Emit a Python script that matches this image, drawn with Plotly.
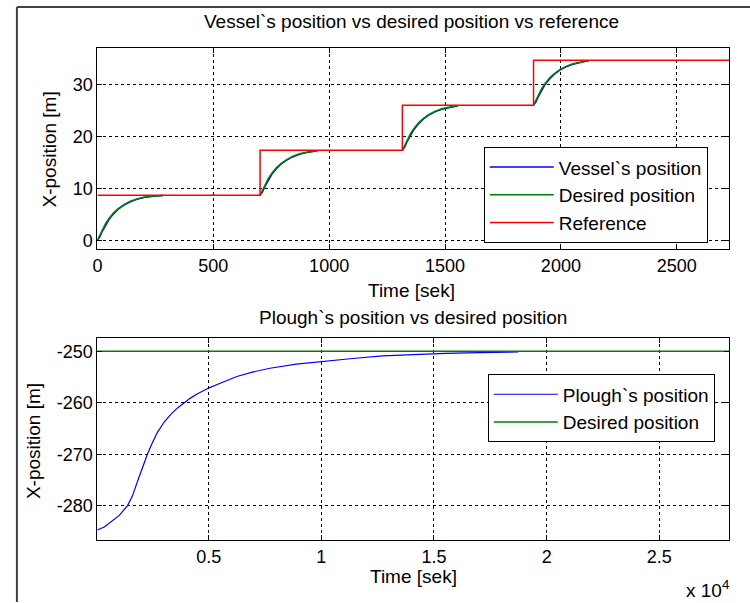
import plotly.graph_objects as go

# ---------------- data: top plot ----------------
ref_t = [0, 702, 1316, 1882, 2726]
ref_y = [8.7, 17.4, 26.1, 34.8, 34.8]

ves_t = [0, 10, 20, 35, 50, 70, 90, 115, 140, 170, 200, 240, 284, None,
         702, 712, 722, 737, 752, 772, 792, 817, 842, 872, 902, 950, None,
         1316, 1326, 1336, 1351, 1366, 1386, 1406, 1431, 1456, 1486, 1516, 1556, None,
         1882, 1892, 1902, 1917, 1932, 1952, 1972, 1997, 2022, 2052, 2082, 2120]
des_y = [0.0, 0.9, 1.9, 3.2, 4.2, 5.3, 6.1, 6.9, 7.5, 8.0, 8.3, 8.55, 8.65, None,
         8.7, 9.6, 10.6, 11.9, 12.9, 14.0, 14.8, 15.6, 16.2, 16.7, 17.0, 17.3, None,
         17.4, 18.3, 19.3, 20.6, 21.6, 22.7, 23.5, 24.3, 24.9, 25.4, 25.7, 26.0, None,
         26.1, 27.0, 28.0, 29.3, 30.3, 31.4, 32.2, 33.0, 33.6, 34.1, 34.4, 34.7]
ves_y = [0.0, 0.6, 1.6, 2.9, 4.0, 5.1, 6.0, 6.8, 7.4, 7.9, 8.25, 8.5, 8.65, None,
         8.7, 9.3, 10.3, 11.6, 12.7, 13.8, 14.7, 15.5, 16.1, 16.6, 16.95, 17.3, None,
         17.4, 18.0, 19.0, 20.3, 21.4, 22.5, 23.4, 24.2, 24.8, 25.3, 25.65, 26.0, None,
         26.1, 26.7, 27.7, 29.0, 30.1, 31.2, 32.1, 32.9, 33.5, 34.0, 34.35, 34.7]

top_xticks = [0, 500, 1000, 1500, 2000, 2500]
top_yticks = [0, 10, 20, 30]

# ---------------- data: bottom plot ----------------
plough_t = [60, 106, 370, 666, 1032, 1398, 1618, 1839, 2059, 2280, 2500, 2721, 3016,
            3311, 3604, 3898, 4192, 4484, 5000, 5515, 6248, 6984, 7720, 8894, 10040,
            11393, 12716, 14040, 15506, 17000, 18742]
plough_y = [-284.8, -284.62, -284.17, -283.2, -281.9, -280.0, -278.1, -275.3, -272.5,
            -270.0, -267.8, -265.8, -263.8, -262.3, -261.05, -260.0, -259.1, -258.3,
            -257.15, -256.2, -254.9, -254.0, -253.3, -252.5, -251.95, -251.4, -250.9,
            -250.65, -250.4, -250.25, -250.14]
plough_des_t = [60, 28100]
plough_des_y = [-250, -250]

bot_xticks = [5000, 10000, 15000, 20000, 25000]
bot_xticktext = ["0.5", "1", "1.5", "2", "2.5"]
bot_yticks = [-250, -260, -270, -280]
bot_yticktext = ["-250", "-260", "-270", "-280"]

FONT = "Liberation Sans, Arial, sans-serif"
TFS = 18   # tick labels
FS = 19    # titles, axis labels, legend

fig = go.Figure()
fig.add_trace(go.Scatter(x=ves_t, y=ves_y, mode="lines", name="Vessel`s position",
                         line=dict(color="#0000ff", width=1.5), legend="legend"))
fig.add_trace(go.Scatter(x=ves_t, y=des_y, mode="lines", name="Desired position",
                         line=dict(color="#008000", width=1.5), legend="legend"))
fig.add_trace(go.Scatter(x=ref_t, y=ref_y, mode="lines", name="Reference",
                         line=dict(color="#ff0000", width=1.5, shape="hv"), legend="legend"))

fig.add_trace(go.Scatter(x=plough_t, y=plough_y, mode="lines", name="Plough`s position",
                         line=dict(color="#0000ff", width=1.2), xaxis="x2", yaxis="y2",
                         legend="legend2"))
fig.add_trace(go.Scatter(x=plough_des_t, y=plough_des_y, mode="lines", name="Desired position",
                         line=dict(color="#008000", width=1.5), xaxis="x2", yaxis="y2",
                         legend="legend2"))

ax_common = dict(showline=True, linecolor="black", linewidth=1, mirror="allticks",
                 ticks="inside", ticklen=5, tickcolor="black", showgrid=True,
                 gridcolor="black", gridwidth=1, griddash="3px,3px", zeroline=False,
                 tickfont=dict(family=FONT, size=TFS, color="black"))

leg_common = dict(xanchor="left", yanchor="top", bordercolor="black", borderwidth=1,
                  bgcolor="white", font=dict(family=FONT, size=FS, color="black"),
                  tracegroupgap=0, itemwidth=64)

fig.update_layout(
    width=750, height=603,
    margin=dict(l=0, r=0, t=0, b=0),
    paper_bgcolor="white", plot_bgcolor="white",
    font=dict(family=FONT, size=FS, color="black"),
    xaxis=dict(domain=[93/750, 729/750], range=[0, 2726], tickvals=top_xticks,
               anchor="y", **ax_common),
    yaxis=dict(domain=[1-249.5/603, 1-48.3/603], range=[-1.7, 37.1], tickvals=top_yticks,
               anchor="x", **ax_common),
    xaxis2=dict(domain=[93/750, 729/750], range=[60, 28100], tickvals=bot_xticks,
                ticktext=bot_xticktext, anchor="y2", **ax_common),
    yaxis2=dict(domain=[1-541/603, 1-339/603], range=[-286.7, -247.5], tickvals=bot_yticks,
                ticktext=bot_yticktext, anchor="x2", **ax_common),
    legend=dict(x=482/750, y=1-147.5/603, **leg_common),
    legend2=dict(x=486/750, y=1-375/603, **leg_common),
    shapes=[
        dict(type="line", xref="paper", yref="paper", x0=12/750, x1=1, y0=1-7/603, y1=1-7/603,
             line=dict(color="#404040", width=2)),
        dict(type="line", xref="paper", yref="paper", x0=12/750, x1=12/750, y0=0, y1=1-7/603,
             line=dict(color="#404040", width=2)),
    ],
    annotations=[
        dict(text="Vessel`s position vs desired position vs reference", x=409/750, y=1-22/603,
             xref="paper", yref="paper", showarrow=False, xanchor="center", yanchor="middle"),
        dict(text="Time [sek]", x=409/750, y=1-291/603, xref="paper", yref="paper",
             showarrow=False, xanchor="center", yanchor="middle"),
        dict(text="X-position [m]", x=45/750, y=1-150/603, xref="paper", yref="paper",
             showarrow=False, xanchor="center", yanchor="middle", textangle=-90),
        dict(text="Plough`s position vs desired position", x=411/750, y=1-318/603,
             xref="paper", yref="paper", showarrow=False, xanchor="center", yanchor="middle"),
        dict(text="Time [sek]", x=411/750, y=1-577/603, xref="paper", yref="paper",
             showarrow=False, xanchor="center", yanchor="middle"),
        dict(text="X-position [m]", x=28/750, y=1-442/603, xref="paper", yref="paper",
             showarrow=False, xanchor="center", yanchor="middle", textangle=-90),
        dict(text="x 10<sup>4</sup>", x=707/750, y=1-590/603, xref="paper", yref="paper",
             showarrow=False, xanchor="center", yanchor="middle"),
    ],
)

fig.write_html("out.html")
